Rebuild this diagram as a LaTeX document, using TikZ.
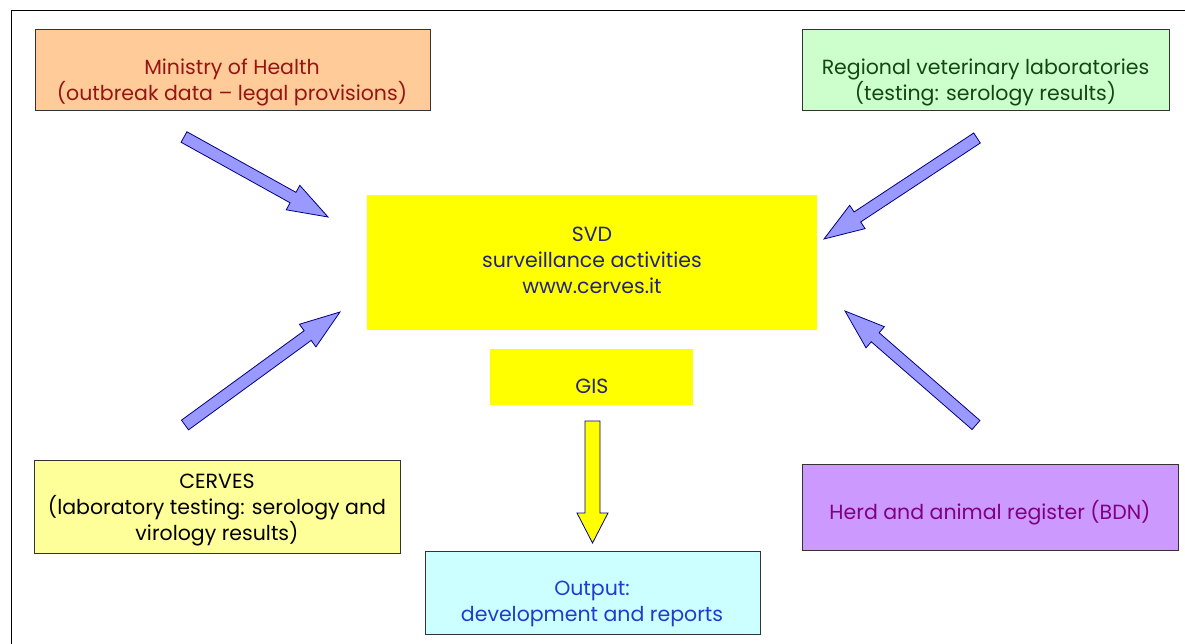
\documentclass[tikz,border=0pt]{standalone}
\usepackage{fontspec}
\setmainfont{Poppins}
\usetikzlibrary{calc}

\definecolor{mohfill}{RGB}{255,204,153}
\definecolor{mohtext}{RGB}{150,20,20}
\definecolor{regfill}{RGB}{204,255,204}
\definecolor{regtext}{RGB}{20,70,20}
\definecolor{cerfill}{RGB}{255,255,153}
\definecolor{herdfill}{RGB}{204,153,255}
\definecolor{herdtext}{RGB}{128,0,128}
\definecolor{outfill}{RGB}{204,255,255}
\definecolor{outtext}{RGB}{30,60,210}
\definecolor{svdtext}{RGB}{35,35,120}
\definecolor{svdfill}{RGB}{255,255,0}
\definecolor{arrfill}{RGB}{153,153,255}
\definecolor{arrline}{RGB}{0,0,128}

\tikzset{
  box/.style={rectangle, draw=black!80, line width=0.9pt, inner sep=0pt, anchor=north west},
  plainbox/.style={rectangle, inner sep=0pt, anchor=north west, fill=svdfill},
  txt/.style={align=center, font=\fontsize{20.5}{26}\selectfont, inner sep=0pt},
  bluearr/.style={fill=arrfill, draw=arrline, line width=0.8pt, line join=miter},
  yellowarr/.style={fill=svdfill, draw=arrline, line width=0.8pt, line join=miter}
}

% #1 style, #2 tail, #3 tip, #4 shaft half width, #5 head half width, #6 head length
\newcommand{\blockarrow}[6]{%
  \coordinate (ba-hb) at ($(#3)!#6!(#2)$);
  \draw[#1] ($(#2)!#4!90:(#3)$) -- ($(ba-hb)!#4!90:(#3)$) -- ($(ba-hb)!#5!90:(#3)$)
    -- (#3) -- ($(ba-hb)!#5!-90:(#3)$) -- ($(ba-hb)!#4!-90:(#3)$) -- ($(#2)!#4!-90:(#3)$) -- cycle;
}

\begin{document}
\begin{tikzpicture}[x=1pt,y=-1pt]
  \useasboundingbox (0,0) rectangle (1185,644);
  \fill[white] (0,0) rectangle (1185,644);
  % frame
  \draw[line width=1pt] (11,644) -- (11,11) -- (1185,11);

  % boxes
  \node[box, fill=mohfill, minimum width=395pt, minimum height=81pt] (moh) at (35,29) {};
  \node[box, fill=regfill, minimum width=367pt, minimum height=81pt] (reg) at (802,29) {};
  \node[plainbox, minimum width=450pt, minimum height=135pt] (svd) at (367,195) {};
  \node[plainbox, minimum width=203pt, minimum height=56pt] (gis) at (490,349) {};
  \node[box, fill=cerfill, minimum width=366pt, minimum height=93pt] (cer) at (34,460) {};
  \node[box, fill=herdfill, minimum width=376pt, minimum height=86pt] (herd) at (802,464) {};
  \node[box, fill=outfill, minimum width=335pt, minimum height=83pt] (out) at (425,551) {};

  % texts
  \node[txt, text=mohtext] (moh-t) at (232,82) {Ministry of Health\\(outbreak data -- legal provisions)};
  \node[txt, text=regtext] (reg-t) at (985.5,82) {Regional veterinary laboratories\\(testing: serology results)};
  \node[txt, text=svdtext] (svd-t) at (592,260) {SVD\\surveillance activities\\www.cerves.it};
  \node[txt, text=svdtext] (gis-t) at (592,386) {GIS};
  \node[txt, text=black] (cer-t) at (217,510) {CERVES\\(laboratory testing: serology and\\virology results)};
  \node[txt, text=herdtext] (herd-t) at (990,513) {Herd and animal register (BDN)};
  \node[txt, text=outtext] (out-t) at (592,604) {Output:\\development and reports};

  % arrow ends
  \coordinate (tl-s) at (184,137);
  \coordinate (tl-e) at (328,217);
  \coordinate (tr-s) at (977,138);
  \coordinate (tr-e) at (824,239);
  \coordinate (bl-s) at (185,425);
  \coordinate (bl-e) at (340,312);
  \coordinate (br-s) at (976,425);
  \coordinate (br-e) at (845,311);
  \coordinate (gis-s) at (592.5,421);
  \coordinate (gis-e) at (592.5,543);

  \blockarrow{bluearr}{tl-s}{tl-e}{6pt}{14pt}{40pt}
  \blockarrow{bluearr}{tr-s}{tr-e}{6pt}{14pt}{40pt}
  \blockarrow{bluearr}{bl-s}{bl-e}{6pt}{14pt}{40pt}
  \blockarrow{bluearr}{br-s}{br-e}{6pt}{14pt}{40pt}
  \blockarrow{yellowarr}{gis-s}{gis-e}{7.5pt}{15.5pt}{30pt}
\end{tikzpicture}
\end{document}
